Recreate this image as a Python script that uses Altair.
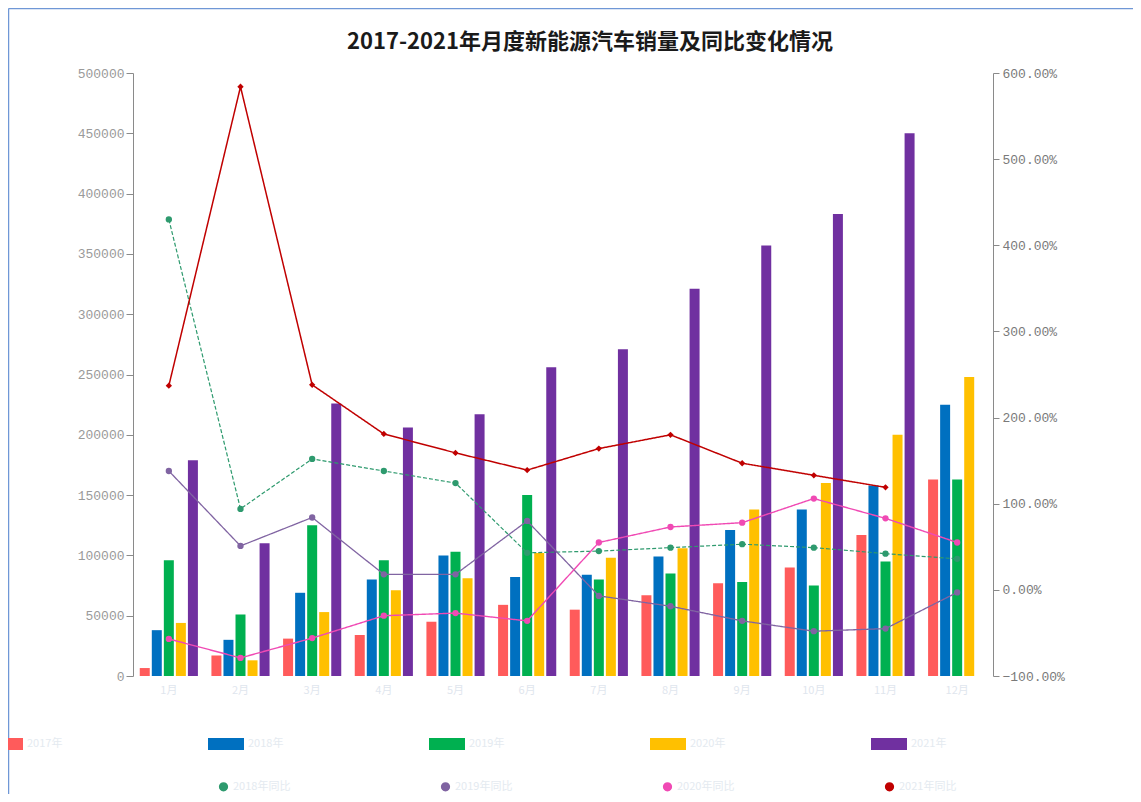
import altair as alt
import pandas as pd

# ---------------- data ----------------
title_text = "2017-2021年月度新能源汽车销量及同比变化情况"
months = ["1月", "2月", "3月", "4月", "5月", "6月", "7月", "8月", "9月", "10月", "11月", "12月"]
years = ["2017年", "2018年", "2019年", "2020年", "2021年"]

sales_2017 = [6600, 17000, 31000, 34000, 45000, 59000, 55000, 67000, 77000, 90000, 117000, 163000]
sales_2018 = [38000, 30000, 69000, 80000, 100000, 82000, 84000, 99000, 121000, 138000, 158000, 225000]
sales_2019 = [96000, 51000, 125000, 96000, 103000, 150000, 80000, 85000, 78000, 75000, 95000, 163000]
sales_2020 = [44000, 13000, 53000, 71000, 81000, 102000, 98000, 106000, 138000, 160000, 200000, 248000]
sales_2021 = [179000, 110000, 226000, 206000, 217000, 256000, 271000, 321000, 357000, 383000, 450000]

yoy_names = ["2018年同比", "2019年同比", "2020年同比", "2021年同比"]
yoy_2018 = [430, 94, 152, 138, 124, 43, 45, 49, 53, 49, 42, 36]
yoy_2019 = [138, 51, 84, 18, 18, 80, -7, -19, -36, -48, -45, -3]
yoy_2020 = [-57, -79, -56, -30, -27, -36, 55, 73, 78, 106, 83, 55]
yoy_2021 = [237, 584, 238, 181, 159, 139, 164, 180, 147, 133, 119]

bar_colors = ["#FF5B5B", "#0070C0", "#00B050", "#FFC000", "#7030A0"]
line_colors = ["#2E9A6E", "#8064A2", "#F04AB4", "#C00000"]

# ---------------- tables ----------------
bar_rows = []
for yr, vals in zip(years, [sales_2017, sales_2018, sales_2019, sales_2020, sales_2021]):
    for m, v in zip(months, vals):
        bar_rows.append({"month": m, "year": yr, "sales": v})
bars_df = pd.DataFrame(bar_rows)

line_rows = []
for name, vals in zip(yoy_names, [yoy_2018, yoy_2019, yoy_2020, yoy_2021]):
    for m, v in zip(months, vals):
        line_rows.append({"month": m, "series": name, "yoy": v / 100})
lines_df = pd.DataFrame(line_rows)

# ---------------- chart ----------------
x_enc = alt.X(
    "month:N", sort=months, title=None,
    scale=alt.Scale(paddingInner=0.16, paddingOuter=0.08),
    axis=alt.Axis(labelColor="#dfe6ee", labelFont="Noto Sans CJK SC", labelFontSize=11,
                  domain=False, ticks=False, labelAngle=0, labelPadding=8),
)

bars = alt.Chart(bars_df).mark_bar().encode(
    x=x_enc,
    xOffset=alt.XOffset("year:N", sort=years,
                        scale=alt.Scale(paddingInner=0.17, paddingOuter=0.085)),
    y=alt.Y("sales:Q", title=None,
            scale=alt.Scale(domain=[0, 500000], nice=False),
            axis=alt.Axis(orient="left", values=list(range(0, 500001, 50000)), format="d",
                          labelFont="Liberation Mono", labelFontSize=13, labelColor="#9a9a9a",
                          domainColor="#8a8a8a", tickColor="#8a8a8a", tickSize=7,
                          labelPadding=2, grid=False)),
    color=alt.Color("year:N", sort=years,
                    scale=alt.Scale(domain=years, range=bar_colors),
                    legend=alt.Legend(orient="none", legendX=-146, legendY=653, direction="horizontal",
                                      columns=5, columnPadding=145, title=None,
                                      symbolType="M-1,-0.33L1,-0.33L1,0.33L-1,0.33Z", symbolSize=1296,
                                      symbolStrokeWidth=0, labelColor="#e4eaf0",
                                      labelFont="Noto Sans CJK SC", labelFontSize=11)),
)

y_right = alt.Y("yoy:Q", title=None,
                scale=alt.Scale(domain=[-1, 6], nice=False),
                axis=alt.Axis(orient="right", values=[-1, 0, 1, 2, 3, 4, 5, 6], format=".2%",
                              labelFont="Liberation Mono", labelFontSize=13, labelColor="#7a7a7a",
                              domainColor="#8a8a8a", tickColor="#8a8a8a", tickSize=6,
                              labelPadding=3, grid=False))

line_color = alt.Color("series:N", sort=yoy_names,
                       scale=alt.Scale(domain=yoy_names, range=line_colors),
                       legend=alt.Legend(orient="none", legendX=85, legendY=708, direction="horizontal",
                                         columns=5, columnPadding=147, title=None,
                                         symbolType="circle", symbolSize=60,
                                         labelColor="#e4eaf0",
                                         labelFont="Noto Sans CJK SC", labelFontSize=11))

lines = alt.Chart(lines_df).mark_line().encode(
    x=x_enc,
    y=y_right,
    color=line_color,
    strokeWidth=alt.StrokeWidth("series:N", sort=yoy_names,
                                scale=alt.Scale(domain=yoy_names, range=[1.2, 1.5, 1.5, 2.2]), legend=None),
    strokeDash=alt.StrokeDash("series:N", sort=yoy_names,
                              scale=alt.Scale(domain=yoy_names, range=[[4, 2], [1, 0], [1, 0], [1, 0]]),
                              legend=None),
)

points = alt.Chart(lines_df).mark_point(filled=True, opacity=1).encode(
    x=x_enc,
    y=y_right,
    color=line_color,
    shape=alt.Shape("series:N", sort=yoy_names,
                    scale=alt.Scale(domain=yoy_names, range=["circle", "circle", "circle", "diamond"]),
                    legend=None),
    size=alt.Size("series:N", sort=yoy_names,
                  scale=alt.Scale(domain=yoy_names, range=[40, 40, 40, 70]), legend=None),
)

one_row = pd.DataFrame({"k": [0]})
frame_left = alt.Chart(one_row).mark_rule(color="#6f97d6", strokeWidth=1.5).encode(
    x=alt.value(-124.5), y=alt.value(-64.5), y2=alt.value(725))
frame_top = alt.Chart(one_row).mark_rule(color="#6f97d6", strokeWidth=1.5).encode(
    x=alt.value(-124.5), x2=alt.value(1010), y=alt.value(-64.5))

title_mark = alt.Chart(pd.DataFrame({"t": [title_text]})).mark_text(
    font="Noto Sans CJK SC", fontSize=22, fontWeight="bold", color="#1a1a1a",
    align="center", baseline="middle"
).encode(x=alt.value(457), y=alt.value(-31), text="t:N")

chart = alt.layer(
    bars,
    alt.layer(lines, points),
    frame_left,
    frame_top,
    title_mark,
).resolve_scale(
    y="independent", color="independent"
).properties(
    width=860,
    height=603,
    autosize=alt.AutoSizeParams(type="none"),
    padding={"left": 125, "top": 65, "right": 140, "bottom": 118},
).configure_view(
    stroke=None
)

chart.save("out.html", embed_options={"renderer": "svg", "actions": False})
